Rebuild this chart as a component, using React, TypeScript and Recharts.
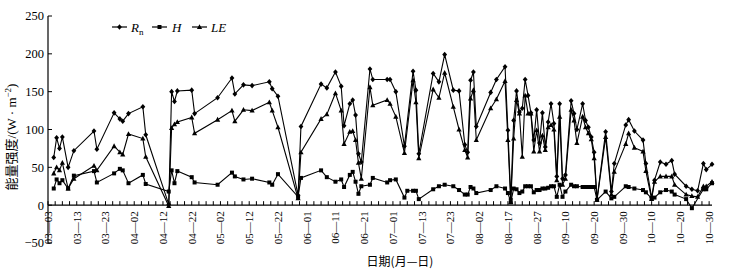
import React from 'react';
import { LineChart, Line, XAxis, YAxis, ReferenceLine, Legend } from 'recharts';

// day index counted from 03-03 (axis is labelled every 10 steps)
const dayIdx = [
  2, 3, 4, 5, 7, 9, 16, 17, 23, 25,
  26, 28, 33, 34, 42, 43, 44, 45, 50, 51,
  59, 64, 65, 68, 71, 77, 78, 80, 87, 88,
  95, 97, 100, 102, 103, 105, 106, 107, 108, 109,
  112, 113, 118, 119, 121, 124, 125, 127, 128, 129,
  134, 136, 138, 141, 143, 145, 146, 147, 148, 149,
  154, 156, 159, 160, 161, 162, 163, 164, 165, 166,
  167, 168, 169, 170, 171, 172, 173, 174, 175, 176,
  177, 178, 179, 180, 182, 183, 184, 186, 187, 188,
  189, 190, 191, 194, 196, 197, 201, 202, 204, 207,
  208, 210, 211, 213, 215, 217, 218, 222, 224, 226,
  228, 229, 231,
];

const rnValues = [
  63, 89, 75, 90, 50, 72, 98, 74, 122, 114,
  111, 121, 130, 93, 1, 150, 137, 151, 152, 121,
  142, 168, 147, 159, 158, 163, 154, 144, 13, 104,
  160, 155, 176, 157, 105, 134, 139, 119, 68, 57,
  180, 166, 166, 166, 150, 78, null, 177, 152, 68,
  174, 163, 199, 152, 151, 80, 70, 165, 176, 104,
  149, 166, 183, 99, 8, 112, 151, 123, 128, 166,
  145, 122, 86, 126, 82, 122, 77, 110, 134, 108,
  38, 134, 35, 40, 138, 121, 100, 134, 112, 103,
  90, 70, 8, 97, 18, 55, 106, 113, 98, 86,
  55, 10, 33, 57, 54, 59, 41, 25, 21, 19,
  55, 47, 54,
];

const hValues = [
  22, 34, 29, 33, 22, 39, 45, 30, 42, 48,
  46, 29, 40, 28, 18, 46, 29, 45, 37, 30,
  27, 43, 38, 34, 35, 30, 27, 41, 11, 36,
  46, 37, 31, 34, 24, 40, 44, 31, 15, 25,
  27, 36, 30, 33, 34, 10, 19, 19, 19, 8,
  21, 25, 27, 25, 20, 14, 14, 24, 22, 16,
  20, 25, 22, 16, 4, 22, 21, 16, 18, 25,
  25, 25, 17, 20, 20, 22, 22, 23, 25, 25,
  11, 27, 11, 18, 27, 25, 25, 24, 24, 24,
  24, 24, 7, 18, 9, 11, 25, 24, 22, 20,
  17, 9, 10, 17, 20, 18, 14, 8, -4, null,
  21, 21, 29,
];

const leValues = [
  42, 50, 46, 56, 22, 35, 52, 46, 78, 70,
  67, 94, 88, 64, -1, 102, 107, 110, 116, 95,
  113, 125, 111, 126, 125, 136, 125, 103, 9, 70,
  114, 120, 148, 125, 81, 97, 98, 86, 56, 35,
  156, 132, 139, 134, 117, 69, null, 165, 136, 62,
  153, 142, 175, 130, 100, 73, 63, 141, 152, 86,
  128, 140, 164, 86, 4, 88, 139, 121, 64, 145,
  121, 121, 71, 99, 71, 92, 73, 103, 106, 100,
  33, 117, 27, 35, 126, 112, 82, 117, 103, 95,
  87, 62, 7, 90, 14, 44, 81, 95, 76, 71,
  45, 8, 31, 38, 38, 38, 27, 14, 12, 11,
  25, 25, 31,
];

const tickLabels = [
  '03—03', '03—13', '03—23', '04—02', '04—12', '04—22', '05—02', '05—12',
  '05—22', '06—01', '06—11', '06—21', '07—01', '07—13', '07—23', '08—02',
  '08—17', '08—27', '09—10', '09—20', '09—30', '10—10', '10—20', '10—30',
];

const yTicks = [-50, 0, 50, 100, 150, 200, 250];

const data = dayIdx.map((d, i) => ({
  idx: d,
  rn: rnValues[i],
  h: hValues[i],
  le: leValues[i],
}));

const W = 738;
const H = 278;
const MARGIN = { top: 16, right: 26, bottom: 0, left: 0 };
const X_AXIS_H = 35;
const Y_DOMAIN: [number, number] = [-50, 250];
const PLOT_H = H - MARGIN.top - MARGIN.bottom - X_AXIS_H;
const ZERO_OFFSET = (PLOT_H * (0 - Y_DOMAIN[0])) / (Y_DOMAIN[1] - Y_DOMAIN[0]);
const SERIF = '"Liberation Serif", "Times New Roman", "Noto Sans CJK SC", serif';
const CJK = '"Noto Sans CJK SC", "Liberation Serif", sans-serif';

// minor ticks every quarter of a label step
const xTicks = Array.from({ length: 93 }, (_, i) => i * 2.5);

function XTick(props: any) {
  const { x, y, payload } = props;
  const zeroY = y - ZERO_OFFSET;
  const v = payload.value;
  const major = v % 10 === 0;
  const ty = zeroY + 6;
  return (
    <g>
      <line x1={x} x2={x} y1={zeroY} y2={zeroY - 4} stroke="#000" strokeWidth={1} />
      {major && (
        <text
          x={x}
          y={ty}
          transform={`rotate(-90, ${x}, ${ty})`}
          textAnchor="end"
          dy="0.35em"
          fontSize={11}
          fontFamily={SERIF}
          fill="#000"
        >
          {tickLabels[v / 10]}
        </text>
      )}
    </g>
  );
}

function YTick(props: any) {
  const { x, y, payload } = props;
  const v = payload.value;
  return (
    <g>
      <line x1={x} x2={x + 4} y1={y} y2={y} stroke="#000" strokeWidth={1} />
      <text x={x - 4} y={y} dy="0.35em" textAnchor="end" fontSize={12.5} fontFamily={SERIF} fill="#000">
        {v < 0 ? `−${-v}` : v}
      </text>
    </g>
  );
}

function marker(shape: string, cx: number, cy: number, key?: string) {
  if (shape === 'diamond') {
    return <path key={key} d={`M${cx},${cy - 2.8}L${cx + 2.4},${cy}L${cx},${cy + 2.8}L${cx - 2.4},${cy}Z`} fill="#000" />;
  }
  if (shape === 'square') {
    return <rect key={key} x={cx - 2} y={cy - 2} width={4} height={4} fill="#000" />;
  }
  return <path key={key} d={`M${cx},${cy - 2.8}L${cx + 2.6},${cy + 2}L${cx - 2.6},${cy + 2}Z`} fill="#000" />;
}

const makeDot = (shape: string) => (p: any) => {
  const { cx, cy, index, value } = p;
  const key = `${shape}-${index}`;
  if (cx == null || cy == null || value == null) return <g key={key} />;
  return marker(shape, cx, cy, key);
};

function YTitle() {
  const cx = 11;
  const cy = 137;
  return (
    <text
      x={cx}
      y={cy}
      transform={`rotate(-90, ${cx}, ${cy})`}
      textAnchor="middle"
      dy="0.35em"
      fontSize={13}
      fontFamily={CJK}
      fill="#000"
    >
      能量强度
      <tspan fontFamily={SERIF}>/(W · m</tspan>
      <tspan fontFamily={SERIF} fontSize={9} dy={-5}>−2</tspan>
      <tspan fontFamily={SERIF} dy={5}>)</tspan>
    </text>
  );
}

function XTitle() {
  return (
    <text x={400} y={262} textAnchor="middle" dy="0.35em" fontSize={12} fontFamily={CJK} fill="#000">
      日期(月—日)
    </text>
  );
}

const legendItems = [
  { key: 'rn', shape: 'diamond', lx: 2, tx: 21 },
  { key: 'h', shape: 'square', lx: 42, tx: 62 },
  { key: 'le', shape: 'triangle', lx: 82, tx: 101 },
];

function LegendContent() {
  return (
    <svg width={140} height={20}>
      {legendItems.map((it) => (
        <g key={it.key}>
          <line x1={it.lx} x2={it.lx + 15} y1={10} y2={10} stroke="#000" strokeWidth={1.2} />
          {marker(it.shape, it.lx + 7.5, 10)}
          <text x={it.tx} y={10} dy="0.35em" fontSize={13} fontStyle="italic" fontFamily={SERIF} fill="#000">
            {it.key === 'rn' ? (
              <>
                R<tspan fontSize={9} fontStyle="normal" dy={3}>n</tspan>
              </>
            ) : it.key === 'h' ? 'H' : 'LE'}
          </text>
        </g>
      ))}
    </svg>
  );
}

export default function App() {
  return (
    <div style={{ position: 'absolute', left: 0, top: 0, width: W, height: H, background: '#fff' }}>
      <LineChart width={W} height={H} data={data} margin={MARGIN}>
        <XAxis
          type="number"
          dataKey="idx"
          domain={[0, 231]}
          ticks={xTicks}
          interval={0}
          height={X_AXIS_H}
          axisLine={false}
          tickLine={false}
          tickSize={0}
          tickMargin={0}
          tick={<XTick />}
          label={<XTitle />}
        />
        <YAxis
          type="number"
          domain={Y_DOMAIN}
          ticks={yTicks}
          interval={0}
          width={48}
          axisLine={{ stroke: '#000', strokeWidth: 1.2 }}
          tickLine={false}
          tickSize={0}
          tickMargin={0}
          tick={<YTick />}
          label={<YTitle />}
        />
        <ReferenceLine y={0} stroke="#000" strokeWidth={1.2} />
        <Legend
          verticalAlign="middle"
          align="center"
          content={<LegendContent />}
          wrapperStyle={{ top: 17, left: 110, width: 140, height: 20 }}
        />
        <Line type="linear" dataKey="h" stroke="#000" strokeWidth={1.1} dot={makeDot('square')} activeDot={false} connectNulls isAnimationActive={false} />
        <Line type="linear" dataKey="le" stroke="#000" strokeWidth={1.1} dot={makeDot('triangle')} activeDot={false} connectNulls isAnimationActive={false} />
        <Line type="linear" dataKey="rn" stroke="#000" strokeWidth={1.1} dot={makeDot('diamond')} activeDot={false} connectNulls isAnimationActive={false} />
      </LineChart>
    </div>
  );
}
